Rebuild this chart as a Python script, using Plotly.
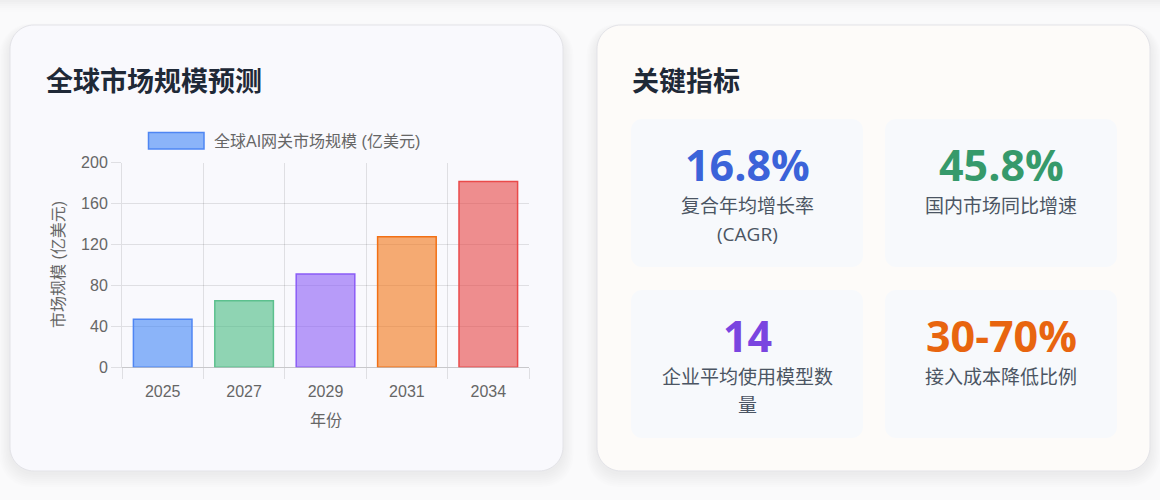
import plotly.graph_objects as go

W, H = 1160, 500

# ---------------- data ----------------
years = ["2025", "2027", "2029", "2031", "2034"]
market_size = [46.9, 65.1, 91.2, 127.5, 181.7]
bar_fill = ["rgba(59,130,246,0.58)", "rgba(72,187,130,0.6)", "rgba(139,92,246,0.6)",
            "rgba(242,116,22,0.6)", "rgba(230,62,62,0.58)"]
bar_line = ["#4f86f3", "#5cc08e", "#8b5cf6", "#f27015", "#ea4a4a"]
y_tick_vals = [0, 40, 80, 120, 160, 200]

legend_label = "全球AI网关市场规模 (亿美元)"
y_title = "市场规模 (亿美元)"
x_title = "年份"
left_title = "全球市场规模预测"
right_title = "关键指标"

metric_values = ["16.8%", "45.8%", "14", "30-70%"]
metric_labels = [["复合年均增长率", "(CAGR)"], ["国内市场同比增速"],
                 ["企业平均使用模型数", "量"], ["接入成本降低比例"]]
metric_colors = ["#3b63d9", "#369a6b", "#7a45e0", "#e8650f"]


# ---------------- helpers (pixel -> paper) ----------------
def px(x):
    return x / W


def py(y):
    return 1 - y / H


def rrect(x0, y0, x1, y1, r):
    k = 0.5523 * r
    p = []
    p.append(f"M {px(x0 + r)},{py(y0)}")
    p.append(f"L {px(x1 - r)},{py(y0)}")
    p.append(f"C {px(x1 - r + k)},{py(y0)} {px(x1)},{py(y0 + r - k)} {px(x1)},{py(y0 + r)}")
    p.append(f"L {px(x1)},{py(y1 - r)}")
    p.append(f"C {px(x1)},{py(y1 - r + k)} {px(x1 - r + k)},{py(y1)} {px(x1 - r)},{py(y1)}")
    p.append(f"L {px(x0 + r)},{py(y1)}")
    p.append(f"C {px(x0 + r - k)},{py(y1)} {px(x0)},{py(y1 - r + k)} {px(x0)},{py(y1 - r)}")
    p.append(f"L {px(x0)},{py(y0 + r)}")
    p.append(f"C {px(x0)},{py(y0 + r - k)} {px(x0 + r - k)},{py(y0)} {px(x0 + r)},{py(y0)}")
    p.append("Z")
    return " ".join(p)


shapes = []
annotations = []

# faint top shadow strip from element above
for i, a in enumerate([0.012, 0.010, 0.008, 0.006, 0.004, 0.003]):
    shapes.append(dict(type="rect", xref="paper", yref="paper", x0=0, x1=1,
                       y0=py(2 * (i + 1)), y1=1, line=dict(width=0),
                       fillcolor=f"rgba(0,0,0,{a})", layer="below"))

cards = [(10, 25, 563, 471, "#f9f9fd"), (597, 25, 1150, 471, "#fdfbf9")]
for (x0, y0, x1, y1, fill) in cards:
    # soft shadow
    for s in range(1, 8):
        shapes.append(dict(type="path", xref="paper", yref="paper",
                           path=rrect(x0 - s * 1.5, y0 - s * 0.8 + 4, x1 + s * 1.5, y1 + s * 2.0 + 2, 24 + s),
                           fillcolor="rgba(0,0,0,0.006)", line=dict(width=0), layer="below"))
    shapes.append(dict(type="path", xref="paper", yref="paper",
                       path=rrect(x0, y0, x1, y1, 24),
                       fillcolor=fill, line=dict(color="#e3e3e8", width=1), layer="below"))

# metric boxes
boxes = [(631, 119, 863, 267), (885, 119, 1117, 267), (631, 290, 863, 438), (885, 290, 1117, 438)]
for (x0, y0, x1, y1) in boxes:
    shapes.append(dict(type="path", xref="paper", yref="paper",
                       path=rrect(x0, y0, x1, y1, 11),
                       fillcolor="#f7f9fc", line=dict(width=0), layer="below"))

# titles
title_font = dict(family="Noto Sans CJK SC, sans-serif", size=27, color="#1f2937")
annotations.append(dict(text=f"<b>{left_title}</b>", x=px(44), y=py(79), xref="paper", yref="paper",
                        xanchor="left", yanchor="middle", showarrow=False, font=title_font))
annotations.append(dict(text=f"<b>{right_title}</b>", x=px(630), y=py(79), xref="paper", yref="paper",
                        xanchor="left", yanchor="middle", showarrow=False, font=title_font))

# metrics
for (x0, y0, x1, y1), val, lab, col in zip(boxes, metric_values, metric_labels, metric_colors):
    cx = (x0 + x1) / 2
    annotations.append(dict(text=f"<b>{val}</b>", x=px(cx), y=py(y0 + 45), xref="paper", yref="paper",
                            xanchor="center", yanchor="middle", showarrow=False,
                            font=dict(family="Open Sans, Noto Sans CJK SC, sans-serif", size=43, color=col)))
    for i, line in enumerate(lab):
        annotations.append(dict(text=line, x=px(cx), y=py(y0 + 87 + 27.5 * i), xref="paper", yref="paper",
                                xanchor="center", yanchor="middle", showarrow=False,
                                font=dict(family="Open Sans, Noto Sans CJK SC, sans-serif", size=19,
                                          color="#4b5563")))

# custom legend (chart.js style)
shapes.append(dict(type="rect", xref="paper", yref="paper", x0=px(148.5), x1=px(204), y0=py(149), y1=py(132.5),
                   fillcolor=bar_fill[0], line=dict(color=bar_line[0], width=1.5), layer="above"))
chart_font = "Liberation Sans, Arial, Noto Sans CJK SC, sans-serif"
annotations.append(dict(text=legend_label, x=px(212), y=py(141), xref="paper", yref="paper",
                        xanchor="left", yanchor="middle", showarrow=False,
                        font=dict(family=chart_font, size=16, color="#666666")))

# axis titles
annotations.append(dict(text=y_title, x=px(58), y=py(265), xref="paper", yref="paper",
                        xanchor="center", yanchor="middle", showarrow=False, textangle=-90,
                        font=dict(family=chart_font, size=16, color="#666666")))
annotations.append(dict(text=x_title, x=px(326), y=py(420), xref="paper", yref="paper",
                        xanchor="center", yanchor="middle", showarrow=False,
                        font=dict(family=chart_font, size=16, color="#666666")))

fig = go.Figure()
fig.add_trace(go.Bar(x=years, y=market_size,
                     marker=dict(color=bar_fill, line=dict(color=bar_line, width=1.5)),
                     showlegend=False, hoverinfo="x+y"))

grid = "rgba(0,0,0,0.1)"
fig.update_layout(
    width=W, height=H, autosize=False,
    margin=dict(l=0, r=0, t=0, b=0),
    paper_bgcolor="#fafafb", plot_bgcolor="rgba(0,0,0,0)",
    bargap=0.28,
    shapes=shapes, annotations=annotations,
    xaxis=dict(domain=[px(122), px(529)], type="category", range=[-0.5, 4.5], automargin=False,
               tickson="boundaries", ticks="outside", ticklen=11, tickcolor=grid, tickwidth=1,
               ticklabelstandoff=9,
               showgrid=True, gridcolor=grid, gridwidth=1,
               showline=True, linecolor=grid, linewidth=1,
               tickfont=dict(family=chart_font, size=16, color="#666666"), fixedrange=True),
    yaxis=dict(domain=[py(367.3), py(162.7)], range=[0, 200], tickvals=y_tick_vals, automargin=False,
               ticks="outside", ticklen=10, tickcolor=grid, tickwidth=1,
               showgrid=True, gridcolor=grid, gridwidth=1,
               zeroline=True, zerolinecolor=grid, zerolinewidth=1,
               showline=True, linecolor=grid, linewidth=1,
               tickfont=dict(family=chart_font, size=16, color="#666666"), fixedrange=True),
)

fig.write_html("out.html")
